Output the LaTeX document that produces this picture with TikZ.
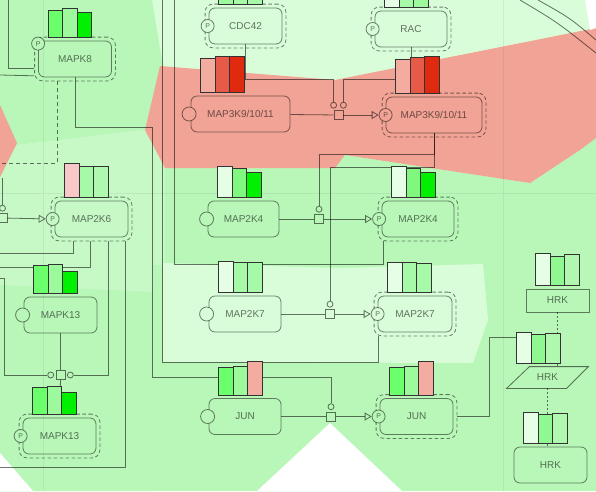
\documentclass[tikz,border=0pt]{standalone}
\usepackage{fontspec}
\setmainfont{Liberation Sans}
\usetikzlibrary{arrows.meta,positioning,calc,fit}

\definecolor{bgLight}{HTML}{D8FDD8}
\definecolor{bgMid}{HTML}{C6F9C6}
\definecolor{bgDark}{HTML}{B8F7B8}
\definecolor{bgRed}{HTML}{F1A395}
\definecolor{barBright}{HTML}{00F000}
\definecolor{barGreen}{HTML}{6CFF6C}
\definecolor{barSoft}{HTML}{9CF99C}
\definecolor{barMint}{HTML}{80F880}
\definecolor{barPale}{HTML}{E6FDE6}
\definecolor{barPale2}{HTML}{A6F9A6}
\definecolor{barPink}{HTML}{F8C8C8}
\definecolor{barSalmon}{HTML}{F4ACA0}
\definecolor{barRed}{HTML}{E85A48}
\definecolor{barDeep}{HTML}{E02A10}
\definecolor{barHrk}{HTML}{90F890}
\definecolor{barHrk2}{HTML}{B0F8B0}

\tikzset{
  gene/.style={draw, draw opacity=.5, line width=.8pt, rounded corners=6pt, minimum width=73pt, minimum height=36pt, inner sep=0pt, text opacity=.55, font=\fontsize{10}{12}\selectfont},
  shell/.style={draw, draw opacity=.5, line width=.8pt, dash pattern=on 3.5pt off 2.5pt, rounded corners=8pt, inner sep=3.5pt},
  site/.style={circle, draw, draw opacity=.5, line width=.8pt, minimum size=14pt, inner sep=0pt, fill=#1},
  site/.default=bgDark,
  psite/.style={site=#1, minimum size=13pt, text opacity=.55, font=\fontsize{7}{7}\selectfont},
  rx/.style={draw, draw opacity=.55, line width=.8pt, minimum size=9pt, inner sep=0pt, fill=#1},
  modc/.style={circle, draw, draw opacity=.55, line width=.8pt, minimum size=6pt, inner sep=0pt, fill=#1},
  link/.style={draw opacity=.55, line width=.8pt},
  conv/.style={link, -{Triangle[open, length=7pt, width=8pt]}},
  exbar/.style={draw=black!80, line width=.9pt},
  tileline/.style={draw=black, draw opacity=.06, line width=.8pt},
}

\newcommand{\exprbars}[7]{%
  \foreach \bc/\bh [count=\bi from 0] in {#2/#3, #4/#5, #6/#7}
    \draw[exbar, fill=\bc] ($(#1.north west)+(10+14.5*\bi,-3)$) rectangle ++(14.5,-\bh);}

\begin{document}
\begin{tikzpicture}[x=1pt, y=-1pt]
\useasboundingbox (0,0) rectangle (596,491);
\fill[bgLight] (0,0) rectangle (596,491);
\fill[bgDark] (0,0) -- (152,0) -- (163,67) -- (145,130) -- (17,145) -- (0,145) -- cycle;
\fill[bgMid] (0,145) -- (17,145) -- (145,130) -- (165,168) -- (165,265) -- (153,265) -- (153,491) -- (0,491) -- cycle;
\fill[bgDark] (0,285) -- (153,292) -- (153,491) -- (0,491) -- cycle;
\fill[bgDark] (165,168) -- (335,168) -- (345,155) -- (530,183) -- (580,150) -- (596,138) -- (596,491) -- (153,491) -- (153,265) -- (165,265) -- cycle;
\fill[bgLight] (163,263) -- (340,268) -- (483,264) -- (488,320) -- (473,363) -- (163,362) -- cycle;
\fill[bgRed] (145,130) -- (160,66) -- (335,80) -- (596,28) -- (596,138) -- (580,150) -- (530,183) -- (345,155) -- (335,168) -- (165,168) -- cycle;
\fill[bgRed] (0,105) -- (17,143) -- (0,177) -- cycle;
\fill[white] (0,453) -- (33,491) -- (0,491) -- cycle;
\fill[white] (257,491) -- (330,423) -- (402,491) -- cycle;
\fill[white] (585,0) -- (596,0) -- (596,28) -- (590,30) -- cycle;
\draw[tileline] (43,0) -- (43,491) (503,0) -- (503,491) (0,193) -- (596,193);

\node[gene] (mapkA) at (75,59) {MAPK8};
\node[gene] (cdcA) at (245.5,26) {CDC42};
\node[gene, minimum width=72pt] (racA) at (411,29) {RAC};
\node[gene, minimum width=99pt] (mkkkA) at (240.5,114) {MAP3K9/10/11};
\node[gene, minimum width=96pt] (mkkkB) at (434,115) {MAP3K9/10/11};
\node[gene, minimum width=71pt] (mkkA) at (243.5,219) {MAP2K4};
\node[gene, minimum width=72pt] (mkkB) at (418,219) {MAP2K4};
\node[gene] (mkkC) at (91.5,219) {MAP2K6};
\node[gene, minimum width=72pt] (mkkD) at (245,314) {MAP2K7};
\node[gene, minimum width=74pt] (mkkE) at (415,314) {MAP2K7};
\node[gene] (mapkB) at (60.5,315) {MAPK13};
\node[gene] (mapkC) at (59.5,436) {MAPK13};
\node[gene, minimum width=72pt] (junA) at (245,416.5) {JUN};
\node[gene] (junB) at (416.5,416.5) {JUN};
\node[gene, rounded corners=0pt, minimum width=63pt, minimum height=23pt] (hrkA) at (557.5,300.5) {HRK};
\node[gene, draw=none, minimum width=81pt, minimum height=21pt] (hrkB) at (547.5,377.5) {HRK};
\node[gene] (hrkC) at (550.5,465) {HRK};

\foreach \g in {mapkA,cdcA,racA,mkkkB,mkkB,mkkC,mkkE,mapkC,junB}
  \node[shell, fit=(\g)] (\g-s) {};

\node[psite=bgDark] (mapkAp) at ($(mapkA.north west)+(0,3)$) {P};
\node[psite=bgLight] (cdcAp) at ($(cdcA.west)+(-1,0)$) {P};
\node[psite=bgLight] (racAp) at ($(racA.west)+(-2,0)$) {P};
\node[site=bgRed] (mkkkAc) at ($(mkkkA.west)+(-1.5,0)$) {};
\node[psite=bgRed] (mkkkBp) at (mkkkB.west) {P};
\node[site=bgDark] (mkkAc) at ($(mkkA.west)+(-1,0)$) {};
\node[psite=bgDark] (mkkBp) at ($(mkkB.west)+(-2.5,0)$) {P};
\node[psite=bgMid] (mkkCp) at ($(mkkC.west)+(-2,0)$) {P};
\node[site=bgLight] (mkkDc) at ($(mkkD.west)+(-2,0)$) {};
\node[psite=bgLight] (mkkEp) at (mkkE.west) {P};
\node[site=bgDark] (mapkBc) at ($(mapkB.west)+(-1,0)$) {};
\node[psite=bgDark] (mapkCp) at ($(mapkC.west)+(-2,0)$) {P};
\node[site=bgDark] (junAc) at ($(junA.west)+(-1,0)$) {};
\node[psite=bgDark] (junBp) at ($(junB.west)+(-1,0)$) {P};

\node[rx=bgRed] (rxA) at (338.5,115) {};
\node[modc=bgRed, above=1.5pt of rxA.north west] (rxAl) {};
\node[modc=bgRed, above=1.5pt of rxA.north east] (rxAr) {};
\node[rx=bgDark] (rxB) at (319,219) {};
\node[modc=bgDark, above=1.5pt of rxB] (rxBm) {};
\node[rx=bgLight] (rxC) at (330,314) {};
\node[modc=bgLight, above=1.5pt of rxC] (rxCm) {};
\node[rx=bgDark] (rxD) at (331,416.5) {};
\node[modc=bgDark, above=1.5pt of rxD] (rxDm) {};
\node[rx=bgDark] (rxE) at (60.5,375) {};
\node[modc=bgDark, left=1.5pt of rxE] (rxEl) {};
\node[modc=bgDark, right=1.5pt of rxE] (rxEr) {};
\node[rx=bgMid] (rxF) at (2.5,218) {};
\node[modc=bgMid, above=1.5pt of rxF] (rxFm) {};

\coordinate (topA) at (174,0);
\coordinate (topB) at (162,0);
\coordinate (topC) at (8,0);
\coordinate (leftA) at (0,75);
\coordinate (leftB) at (0,163);
\coordinate (leftC) at (0,253);
\coordinate (leftD) at (0,267);
\coordinate (leftE) at (0,467);
\coordinate (leftF) at (0,278);
\coordinate (leftG) at (2.5,178);

\draw[link] (mkkkA) -- (rxA);
\draw[conv] (rxA) -- (mkkkBp);
\draw[link] (mkkA) -- (rxB);
\draw[conv] (rxB) -- (mkkBp);
\draw[link] (mkkD) -- (rxC);
\draw[conv] (rxC) -- (mkkEp);
\draw[link] (junA) -- (rxD);
\draw[conv] (rxD) -- (junBp);
\draw[conv] (rxF) -- (mkkCp);
\draw[link] (cdcA.south) -- ++(0,35) -| (rxAl.north);
\draw[link] (racA.south) -- ++(0,32) -| (rxAr.north);
\draw[link] (mkkkB.south) -- ++(0,21) -| (rxBm.north);
\draw[link] (mkkkB.south) -- ++(0,34) -| (rxCm.north);
\draw[link] (mapkA.south) -- ++(0,50) -| ++(77,250) -| (rxDm.north);
\draw[link] ($(mkkB-s.south west)+(5.5,0)$) -- ++(0,23) -| (topA);
\draw[link] ($(mkkE-s.south west)+(4.5,0)$) -- ++(0,26) -| (topB);
\draw[link] ($(mapkA-s.south west)+(0,-12.5)$) -| (topC);
\draw[link] ($(mapkA-s.south west)+(0,-5.5)$) -- (leftA);
\draw[link, dash pattern=on 4pt off 3pt] ($(mapkA-s.south)+(-18,0)$) |- (leftB);
\draw[link] ($(mkkC-s.south)+(-18,0)$) |- (leftC);
\draw[link] ($(mkkC-s.south)+(-1,0)$) |- (leftD);
\draw[link] ($(mkkC-s.south)+(17,0)$) |- (rxEr);
\draw[link] ($(mkkC-s.south)+(34,0)$) |- (leftE);
\draw[link] (leftF) -- ++(4.5,0) |- (rxEl);
\draw[link] (mapkB.south) -- (rxE.north);
\draw[link] (rxE.south) -- (mapkC-s.north);
\draw[link] (leftG) -- (rxFm.north);
\draw[link] (junB-s.east) -- ++(32,0) |- ($(hrkB.north west)+(10,-29)$);
\draw[link, dash pattern=on 2pt off 2pt] (hrkA.south) -- (hrkA.south |- hrkB.north);
\draw[link, dash pattern=on 2pt off 2pt] (hrkB.south) -- (hrkB.south |- hrkC.north);
\draw[link] (hrkB.south west) -- ++(60,0) -- (hrkB.north east) -- ++(-59,0) -- cycle;
\draw[link] (520,0) .. controls (557,22) .. (596,53);
\draw[link] (538,0) .. controls (570,18) .. (596,40);

\exprbars{mapkA}{barGreen}{27}{barSoft}{29}{barBright}{25}
\exprbars{cdcA}{barSoft}{30}{barPale2}{30}{barPale2}{30}
\exprbars{racA}{barPale}{30}{barPale2}{30}{barSoft}{30}
\exprbars{mkkkA}{barSalmon}{34}{barRed}{36}{barDeep}{36}
\exprbars{mkkkB}{barSalmon}{34}{barRed}{36}{barDeep}{37}
\exprbars{mkkA}{barPale}{31}{barMint}{29}{barBright}{25}
\exprbars{mkkB}{barPale}{31}{barMint}{29}{barBright}{25}
\exprbars{mkkC}{barPink}{34}{barPale2}{31}{barHrk2}{31}
\exprbars{mkkD}{barPale}{31}{barPale2}{30}{barPale2}{30}
\exprbars{mkkE}{barPale}{30}{barPale2}{30}{barPale2}{29}
\exprbars{mapkB}{barGreen}{28}{barSoft}{29}{barBright}{22}
\exprbars{mapkC}{barGreen}{27}{barSoft}{28}{barBright}{22}
\exprbars{junA}{barGreen}{28}{barSoft}{29}{barSalmon}{34}
\exprbars{junB}{barGreen}{28}{barSoft}{29}{barSalmon}{34}
\exprbars{hrkA}{barPale}{32}{barHrk}{29}{barHrk2}{31}
\exprbars{hrkB}{barPale}{31}{barHrk}{29}{barHrk2}{30}
\exprbars{hrkC}{barPale}{31}{barHrk}{29}{barHrk2}{30}
\end{tikzpicture}
\end{document}
